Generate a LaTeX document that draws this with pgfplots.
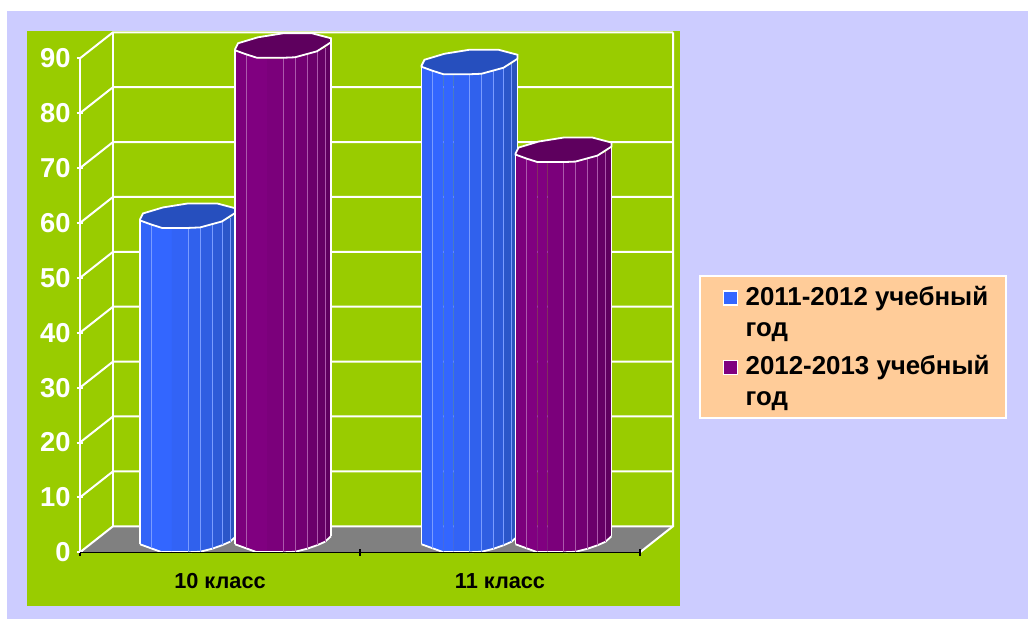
\documentclass[border=0pt]{standalone}
\usepackage{fontspec}
\setmainfont{Liberation Sans}
\usepackage{pgfplots}
\pgfplotsset{compat=1.18}

\definecolor{panel}{HTML}{CCCCFF}
\definecolor{plotbg}{HTML}{99CC00}
\definecolor{legbg}{HTML}{FFCC99}
\definecolor{floorc}{HTML}{808080}
\definecolor{bluehi}{HTML}{3366FF}
\definecolor{bluelo}{HTML}{2850B4}
\definecolor{bluetop}{HTML}{264FBE}
\definecolor{purphi}{HTML}{800080}
\definecolor{purplo}{HTML}{5A005A}
\definecolor{purptop}{HTML}{5E005E}

% 1 image pixel = 0.75pt, 10 units on the value axis = 54.89 pixels
\newcommand{\pxu}{5.489}
\newcommand{\dep}{2.37}
\tikzset{px/.style={line width=#1*0.75pt}}

% #1 centre x, #2 value, #3 light, #4 dark, #5 top colour
\newcommand{\cyl}[5]{%
  \foreach \a/\ay/\b/\by/\p/\s in {%
    -48/5/-37/9/90/1,-37/9/-26/13/100/0,-26/13/-16/13/100/0,-16/13/0/13/88/1,
    0/13/12/12.5/76/1,12/12.5/24/9.5/62/1,24/9.5/34/6/46/1,34/6/42/2.5/28/1,42/2.5/48/-3/12/0}{%
    \pgfmathsetmacro{\xa}{#1+\a}%
    \pgfmathsetmacro{\xb}{#1+\b}%
    \pgfmathsetmacro{\yab}{\dep-\ay/\pxu}%
    \pgfmathsetmacro{\ybb}{\dep-\by/\pxu}%
    \pgfmathsetmacro{\yat}{\dep+#2-\ay/\pxu}%
    \pgfmathsetmacro{\ybt}{\dep+#2-\by/\pxu}%
    \edef\temp{\noexpand\addplot[forget plot,draw=none,fill=#3!\p!#4]
      coordinates {(\xa,\yab)(\xb,\ybb)(\xb,\ybt)(\xa,\yat)(\xa,\yab)};
      \noexpand\addplot[forget plot,px=1.8,white] coordinates {(\xa,\yab)(\xb,\ybb)};}%
    \temp
  }%
  \foreach \b/\by in {-37/9,0/13,12/12.5,24/9.5,34/6,42/2.5}{%
    \pgfmathsetmacro{\xb}{#1+\b}%
    \pgfmathsetmacro{\ybb}{\dep-\by/\pxu}%
    \pgfmathsetmacro{\ybt}{\dep+#2-\by/\pxu}%
    \edef\temp{\noexpand\addplot[forget plot,px=0.7,draw=#3!65!white]
      coordinates {(\xb,\ybb)(\xb,\ybt)};}%
    \temp
  }%
  \gdef\pts{}%
  \foreach \dx/\dy in {-48/4,-45/-2,-25/-8,0/-12,29/-12,48/-7,48/-3,34/6,12/12,0/12.5,-26/12.5,-37/9,-48/5,-48/4}{%
    \pgfmathsetmacro{\xa}{#1+\dx}%
    \pgfmathsetmacro{\ya}{\dep+#2-\dy/\pxu}%
    \xdef\pts{\pts(\xa,\ya)}%
  }%
  \pgfmathsetmacro{\xa}{#1-48}%
  \pgfmathsetmacro{\xb}{#1+48}%
  \pgfmathsetmacro{\yab}{\dep-5/\pxu}%
  \pgfmathsetmacro{\ybb}{\dep+3/\pxu}%
  \pgfmathsetmacro{\yat}{\dep+#2-5/\pxu}%
  \pgfmathsetmacro{\ybt}{\dep+#2+3/\pxu}%
  \edef\temp{\noexpand\addplot[forget plot,px=1.5,white] coordinates {(\xa,\yab)(\xa,\yat)};
    \noexpand\addplot[forget plot,px=1.5,white] coordinates {(\xb,\ybb)(\xb,\ybt)};
    \noexpand\addplot[forget plot,px=1.8,white,fill=#5] coordinates {\pts};}%
  \temp
}

\begin{document}
\begin{tikzpicture}
  \begin{axis}[
    scale only axis,
    width=420pt, height=370.5pt,
    xmin=80, xmax=640,
    ymin=0, ymax=90,
    clip=false,
    axis on top,
    axis lines=left,
    axis line style={-},
    x axis line style={black,px=1.2},
    y axis line style={white,px=2},
    xtick={80,360,640},
    xticklabels={},
    extra x ticks={220,500},
    extra x tick labels={10 класс,11 класс},
    extra x tick style={tick style={draw=none}},
    x tick style={black,px=1.2},
    y tick style={white,px=2,shorten >=2.5pt},
    major tick length=5pt,
    ytick={0,10,...,90},
    tick label style={/pgf/number format/assume math mode=true},
    y tick label style={font=\bfseries\fontsize{20.5}{20.5}\selectfont,text=white,xshift=-1pt},
    x tick label style={font=\bfseries\fontsize{16.3}{16.3}\selectfont,text=black,text height=12pt,text depth=0pt,yshift=-9pt},
    legend style={at={(axis cs:699,50.5)},anchor=north west,fill=legbg,draw=white,px=2,
      nodes={align=left,font=\bfseries\fontsize{19.4}{23.2}\selectfont},
      row sep=9pt,inner xsep=10pt,inner ysep=5.6pt},
    legend cell align=left,
  ]
    % background panels
    \fill[white] (axis cs:0,100.62) rectangle (axis cs:1028,-12.15);
    \fill[panel] (axis cs:7,98.62) rectangle (axis cs:1028,-12.15);
    \fill[plotbg] (axis cs:27,94.97) rectangle (axis cs:680,-9.78);
    % floor and walls
    \fill[floorc] (axis cs:80,0) -- (axis cs:640,0) -- (axis cs:673,4.74) -- (axis cs:113,4.74) -- cycle;
    \pgfplotsinvokeforeach{0,10,20,30,40,50,60,70,80,90}{
      \draw[white,px=2] (axis cs:80,#1) -- (axis cs:113,#1+4.74) -- (axis cs:673,#1+4.74);
    }
    \draw[white,px=2] (axis cs:113,4.74) -- (axis cs:113,94.74);
    \draw[white,px=2] (axis cs:640,0) -- (axis cs:673,4.74) -- (axis cs:673,94.74);

    \cyl{188}{59}{bluehi}{bluelo}{bluetop}
    \cyl{283}{90}{purphi}{purplo}{purptop}
    \cyl{469.5}{87}{bluehi}{bluelo}{bluetop}
    \cyl{563.5}{71}{purphi}{purplo}{purptop}

    \addlegendimage{legend image code/.code={
      \draw[fill=bluehi,draw=white,px=1.2] (7.5pt,5.5pt) rectangle (18pt,16pt);
      \path[draw=none] (0pt,0pt) rectangle (22.25pt,1pt);}}
    \addlegendentry{{2011-2012 учебный\\год}}
    \addlegendimage{legend image code/.code={
      \draw[fill=purphi,draw=white,px=1.2] (7.5pt,5.5pt) rectangle (18pt,16pt);
      \path[draw=none] (0pt,0pt) rectangle (22.25pt,1pt);}}
    \addlegendentry{{2012-2013 учебный\\год}}
  \end{axis}
\end{tikzpicture}
\end{document}
